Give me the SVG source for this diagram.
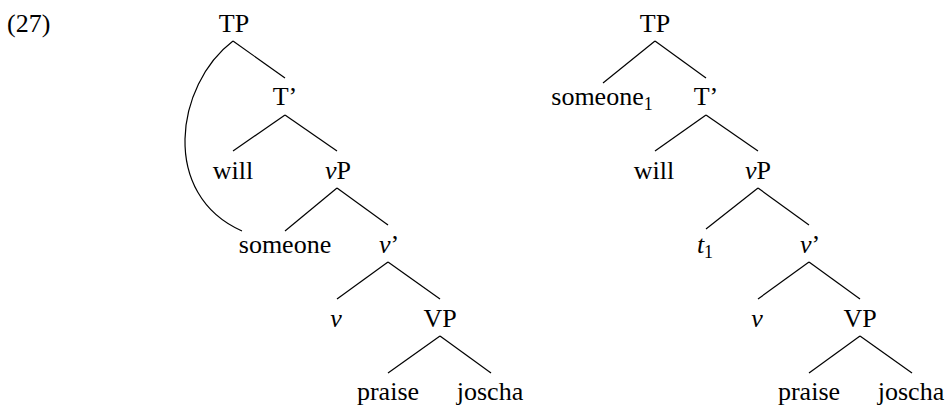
<svg xmlns="http://www.w3.org/2000/svg" width="948" height="405" viewBox="0 0 948 405" font-family="Liberation Serif, DejaVu Serif, serif">
<style>
text{font-family:'Liberation Serif','DejaVu Serif',serif;font-size:26px;fill:#000;text-anchor:middle}
.i{font-style:italic}
.sub{font-size:18px}
.edge{stroke:#000;stroke-width:1.2;fill:none}
</style>
<rect width="948" height="405" fill="#fff"/>
<text x="7" y="32" style="text-anchor:start">(27)</text>
<g id="connectors">
<path class="edge" d="M233,41 C175,85 160,195 242,231"/>
<line class="edge" x1="233" y1="41" x2="285" y2="78"/>
<line class="edge" x1="285" y1="115" x2="233" y2="151"/>
<line class="edge" x1="285" y1="115" x2="337" y2="151"/>
<line class="edge" x1="337" y1="188" x2="285" y2="231"/>
<line class="edge" x1="337" y1="188" x2="388" y2="225"/>
<line class="edge" x1="388" y1="262" x2="337" y2="299"/>
<line class="edge" x1="388" y1="262" x2="440" y2="299"/>
<line class="edge" x1="440" y1="336" x2="388" y2="373"/>
<line class="edge" x1="440" y1="336" x2="491" y2="373"/>
<line class="edge" x1="655" y1="41" x2="603" y2="83"/>
<line class="edge" x1="655" y1="41" x2="706" y2="78"/>
<line class="edge" x1="706" y1="115" x2="655" y2="151"/>
<line class="edge" x1="706" y1="115" x2="758" y2="151"/>
<line class="edge" x1="758" y1="188" x2="706" y2="229"/>
<line class="edge" x1="758" y1="188" x2="809" y2="225"/>
<line class="edge" x1="809" y1="262" x2="758" y2="299"/>
<line class="edge" x1="809" y1="262" x2="860" y2="299"/>
<line class="edge" x1="860" y1="336" x2="809" y2="373"/>
<line class="edge" x1="860" y1="336" x2="912" y2="373"/>
</g>
<g id="L-TP"><text x="234" y="32">TP</text></g>
<g id="L-Tbar"><text x="285" y="105">T’</text></g>
<g id="L-will"><text x="233" y="179">will</text></g>
<g id="L-vP"><text x="338" y="179"><tspan class="i">v</tspan>P</text></g>
<g id="L-someone"><text x="285" y="253">someone</text></g>
<g id="L-vbar"><text x="389" y="253"><tspan class="i">v</tspan>’</text></g>
<g id="L-v"><text x="336" y="327" class="i">v</text></g>
<g id="L-VP"><text x="440" y="327">VP</text></g>
<g id="L-praise"><text x="388" y="400">praise</text></g>
<g id="L-joscha"><text x="490" y="400">joscha</text></g>
<g id="R-TP"><text x="655" y="32">TP</text></g>
<g id="R-someone1"><text x="602" y="105">someone<tspan class="sub" dy="5">1</tspan></text></g>
<g id="R-Tbar"><text x="706" y="105">T’</text></g>
<g id="R-will"><text x="654" y="179">will</text></g>
<g id="R-vP"><text x="758" y="179"><tspan class="i">v</tspan>P</text></g>
<g id="R-t1"><text x="705" y="253"><tspan class="i">t</tspan><tspan class="sub" dy="5">1</tspan></text></g>
<g id="R-vbar"><text x="810" y="253"><tspan class="i">v</tspan>’</text></g>
<g id="R-v"><text x="757" y="327" class="i">v</text></g>
<g id="R-VP"><text x="860" y="327">VP</text></g>
<g id="R-praise"><text x="809" y="400">praise</text></g>
<g id="R-joscha"><text x="911" y="400">joscha</text></g>
</svg>
